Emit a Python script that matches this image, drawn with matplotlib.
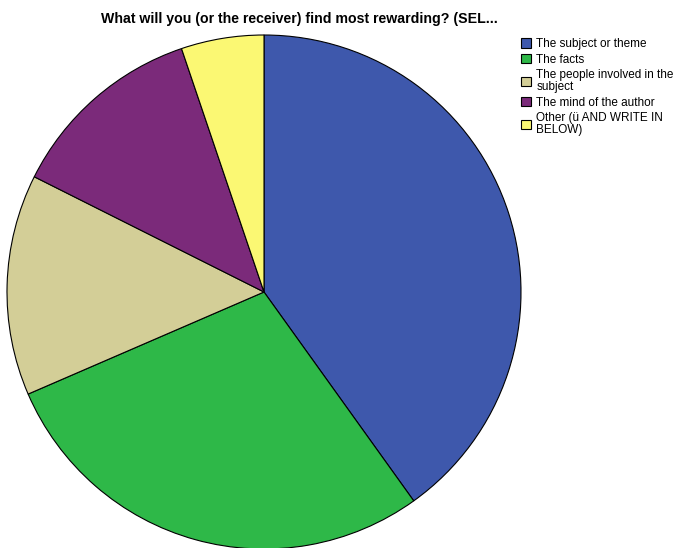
import matplotlib
matplotlib.use("Agg")
import matplotlib.pyplot as plt

categories = [
    "The subject or theme",
    "The facts",
    "The people involved in the\nsubject",
    "The mind of the author",
    "Other (ü AND WRITE IN\nBELOW)",
]
shares = [40.1, 28.4, 13.9, 12.4, 5.2]
colors = ["#3E58AC", "#2EB848", "#D3CE97", "#7B2A7A", "#FBF873"]
title = "What will you (or the receiver) find most rewarding? (SEL..."

plt.rcParams["font.family"] = ["Liberation Sans", "DejaVu Sans"]

W, H = 675, 548
fig = plt.figure(figsize=(W / 100, H / 100), dpi=100)
ax = fig.add_axes([0, 0, 1, 1])

wedges, _ = ax.pie(
    shares,
    colors=colors,
    startangle=90,
    counterclock=False,
    center=(264, H - 292),
    radius=257,
    frame=True,
    wedgeprops=dict(edgecolor="black", linewidth=0.8),
)
ax.set_xlim(0, W)
ax.set_ylim(0, H)
ax.set_axis_off()

fig.text(299 / W, 1 - 19 / H, title, ha="center", va="center",
         fontsize=10.2, fontweight="bold")

leg = ax.legend(
    wedges, categories,
    loc="upper left",
    bbox_to_anchor=(521 / W, 1 - 38 / H),
    frameon=False,
    fontsize=8.5,
    handlelength=0.85,
    handleheight=0.85,
    handletextpad=0.45,
    labelspacing=0.3,
    borderaxespad=0,
    borderpad=0,
)
for t in leg.get_texts():
    t.set_linespacing(1.0)

fig.savefig("out.png", dpi=100)
